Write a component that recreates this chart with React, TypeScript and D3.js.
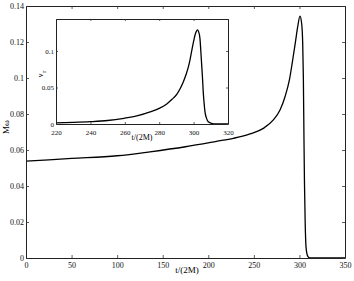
import React, { useRef, useEffect } from 'react'
import * as d3 from 'd3'

// main curve: M*omega vs t/(2M)
const mainT = [0, 50, 100, 136, 175, 209, 227.5, 245.8, 260.4, 271.4, 278.7, 284.2, 289, 292.6, 295.9, 298.1, 300.6, 302.5, 303.6, 304.3, 305, 305.5, 306.3, 307.2, 308.5, 310, 311.5, 350]
const mainW = [0.0538, 0.0553, 0.0568, 0.059, 0.0618, 0.0648, 0.0665, 0.0689, 0.072, 0.0767, 0.0822, 0.0896, 0.0989, 0.11, 0.121, 0.1285, 0.1344, 0.13, 0.119, 0.1007, 0.0656, 0.043, 0.02, 0.0063, 0.0018, 0.0004, 0, 0]

// inset curve: nu_r vs t/(2M)
const insetT = [220, 230, 240, 250, 259.5, 267, 274.7, 280, 284.4, 287.3, 290.2, 292, 294, 295.5, 297, 298, 298.9, 300, 300.8, 301.6, 302.2, 302.9, 303.7, 304.2, 304.7, 305.2, 305.6, 306.1, 306.6, 307.5, 308.5, 310.5, 312, 320]
const insetV = [0.0015, 0.0022, 0.0032, 0.0048, 0.0078, 0.011, 0.0165, 0.0215, 0.0275, 0.0335, 0.0405, 0.0475, 0.0575, 0.067, 0.0785, 0.089, 0.1, 0.113, 0.1215, 0.1268, 0.1288, 0.1265, 0.117, 0.1, 0.081, 0.062, 0.044, 0.029, 0.017, 0.008, 0.003, 0.001, 0, 0]

const mainXTicks = [0, 50, 100, 150, 200, 250, 300, 350]
const mainYTicks = [0, 0.02, 0.04, 0.06, 0.08, 0.1, 0.12, 0.14]
const insetXTicks = [220, 240, 260, 280, 300, 320]
const insetYTicks = [0, 0.05, 0.1]

const W = 354
const H = 281
const font = '"Liberation Serif", "Times New Roman", serif'

export default function App() {
    const ref = useRef<SVGSVGElement>(null)

    useEffect(() => {
        const svg = d3.select(ref.current)
        svg.selectAll('*').remove()

        // ---- main axes ----
        const x = d3.scaleLinear().domain([0, 350]).range([26, 345])
        const y = d3.scaleLinear().domain([0, 0.14]).range([258, 6])

        const boxed = (g, xs, ys, xt, yt, tick, fs, xpad, ypad, fmtY) => {
            const [x0, x1] = xs.range()
            const [y0, y1] = ys.range()
            const b = g.append('g').attr('transform', `translate(0,${y0})`)
                .call(d3.axisBottom(xs).tickValues(xt).tickSize(-tick).tickSizeOuter(0).tickPadding(xpad).tickFormat(d3.format('')))
            const t = g.append('g').attr('transform', `translate(0,${y1})`)
                .call(d3.axisTop(xs).tickValues(xt).tickSize(-tick).tickSizeOuter(0).tickFormat(() => ''))
            const l = g.append('g').attr('transform', `translate(${x0},0)`)
                .call(d3.axisLeft(ys).tickValues(yt).tickSize(-tick).tickSizeOuter(0).tickPadding(ypad).tickFormat(fmtY))
            const r = g.append('g').attr('transform', `translate(${x1},0)`)
                .call(d3.axisRight(ys).tickValues(yt).tickSize(-tick).tickSizeOuter(0).tickFormat(() => ''))
            for (const a of [b, t, l, r]) {
                a.selectAll('.domain').attr('stroke', '#222').attr('stroke-width', 1)
                a.selectAll('.tick line').attr('stroke', '#333').attr('stroke-width', 0.8)
                a.selectAll('text').attr('font-family', font).attr('font-size', fs).attr('fill', '#111')
            }
        }

        const main = svg.append('g')
        main.append('rect').attr('x', 26).attr('y', 6).attr('width', 319).attr('height', 252).attr('fill', 'white')

        const lineMain = d3.line<number>()
            .x((d, i) => x(mainT[i]))
            .y(d => y(d))
            .curve(d3.curveMonotoneX)
        main.append('path')
            .attr('d', lineMain(mainW))
            .attr('fill', 'none')
            .attr('stroke', '#000')
            .attr('stroke-width', 1.3)

        boxed(main, x, y, mainXTicks, mainYTicks, 3, 8, 4, 2, d => (d === 0 ? '0' : String(d)))

        main.append('text')
            .attr('x', 187).attr('y', 273)
            .attr('text-anchor', 'middle')
            .attr('font-family', font).attr('font-size', 9)
            .text('t/(2M)')
        main.append('text')
            .attr('transform', 'translate(9,127) rotate(-90)')
            .attr('text-anchor', 'middle')
            .attr('font-family', font).attr('font-size', 9)
            .text('Mω')

        // ---- inset ----
        const xi = d3.scaleLinear().domain([220, 320]).range([56, 228])
        const yi = d3.scaleLinear().domain([0, 0.1438]).range([124, 19])
        const inset = svg.append('g')
        inset.append('rect').attr('x', 56).attr('y', 19).attr('width', 172).attr('height', 105).attr('fill', 'white')

        const lineInset = d3.line<number>()
            .x((d, i) => xi(insetT[i]))
            .y(d => yi(d))
            .curve(d3.curveMonotoneX)
        inset.append('path')
            .attr('d', lineInset(insetV))
            .attr('fill', 'none')
            .attr('stroke', '#000')
            .attr('stroke-width', 1.3)

        boxed(inset, xi, yi, insetXTicks, insetYTicks, 2, 7, 6, 2, d => (d === 0 ? '0' : String(d)))

        inset.append('text')
            .attr('x', 142).attr('y', 140)
            .attr('text-anchor', 'middle')
            .attr('font-family', font).attr('font-size', 8)
            .text('t/(2M)')
        const nu = inset.append('text')
            .attr('transform', 'translate(43,74) rotate(-90)')
            .attr('text-anchor', 'middle')
            .attr('font-family', font).attr('font-size', 8)
        nu.append('tspan').text('ν')
        nu.append('tspan').attr('dy', 3).attr('dx', 1).attr('font-size', 6).text('r')
    }, [])

    return (
        <div style={{ position: 'absolute', left: 0, top: 0 }}>
            <svg ref={ref} width={W} height={H} style={{ display: 'block', background: 'white' }} />
        </div>
    )
}
